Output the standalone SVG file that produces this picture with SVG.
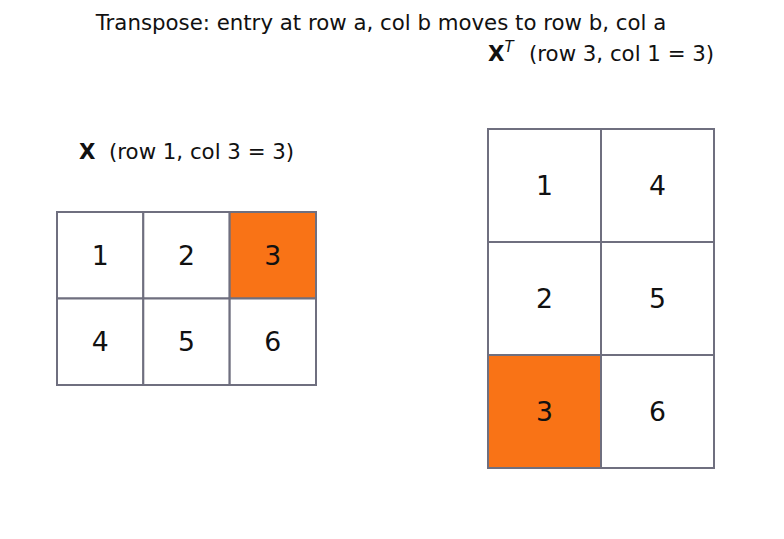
<svg xmlns="http://www.w3.org/2000/svg" width="784" height="539" viewBox="0 0 784 539">
<style>
text{font-family:"DejaVu Sans",sans-serif;fill:#111}
.c{fill:#fff;stroke:#6f6f7f;stroke-width:2}
.h{fill:#f97316;stroke:#6f6f7f;stroke-width:2}
.n{font-size:26.7px;text-anchor:middle;dominant-baseline:central}
.t{font-size:21.3px}
</style>
<rect width="784" height="539" fill="#fff"/>
<text class="t" x="381" y="30" text-anchor="middle">Transpose: entry at row a, col b moves to row b, col a</text>
<g id="labelX"><text class="t" x="79" y="159"><tspan font-weight="bold">X</tspan><tspan x="109">(row 1, col 3 = 3)</tspan></text></g>
<g id="labelXT"><text class="t" x="488" y="61"><tspan font-weight="bold">X</tspan><tspan font-size="15px" font-style="italic" dy="-9">T</tspan><tspan dy="9" x="529">(row 3, col 1 = 3)</tspan></text></g>
<g id="X">
<g id="x11"><rect class="c" x="57" y="212" width="86.3" height="86.5"/><text class="n" x="100.2" y="255.3">1</text></g>
<g id="x12"><rect class="c" x="143.3" y="212" width="86.3" height="86.5"/><text class="n" x="186.5" y="255.3">2</text></g>
<g id="x13"><rect class="h" x="229.7" y="212" width="86.3" height="86.5"/><text class="n" x="272.8" y="255.3">3</text></g>
<g id="x21"><rect class="c" x="57" y="298.5" width="86.3" height="86.5"/><text class="n" x="100.2" y="341.8">4</text></g>
<g id="x22"><rect class="c" x="143.3" y="298.5" width="86.3" height="86.5"/><text class="n" x="186.5" y="341.8">5</text></g>
<g id="x23"><rect class="c" x="229.7" y="298.5" width="86.3" height="86.5"/><text class="n" x="272.8" y="341.8">6</text></g>
</g>
<g id="XT">
<g id="t11"><rect class="c" x="488" y="129" width="113" height="113"/><text class="n" x="544.5" y="185.5">1</text></g>
<g id="t12"><rect class="c" x="601" y="129" width="113" height="113"/><text class="n" x="657.5" y="185.5">4</text></g>
<g id="t21"><rect class="c" x="488" y="242" width="113" height="113"/><text class="n" x="544.5" y="298.5">2</text></g>
<g id="t22"><rect class="c" x="601" y="242" width="113" height="113"/><text class="n" x="657.5" y="298.5">5</text></g>
<g id="t31"><rect class="h" x="488" y="355" width="113" height="113"/><text class="n" x="544.5" y="411.5">3</text></g>
<g id="t32"><rect class="c" x="601" y="355" width="113" height="113"/><text class="n" x="657.5" y="411.5">6</text></g>
</g>
<g id="connectors"/>
</svg>
